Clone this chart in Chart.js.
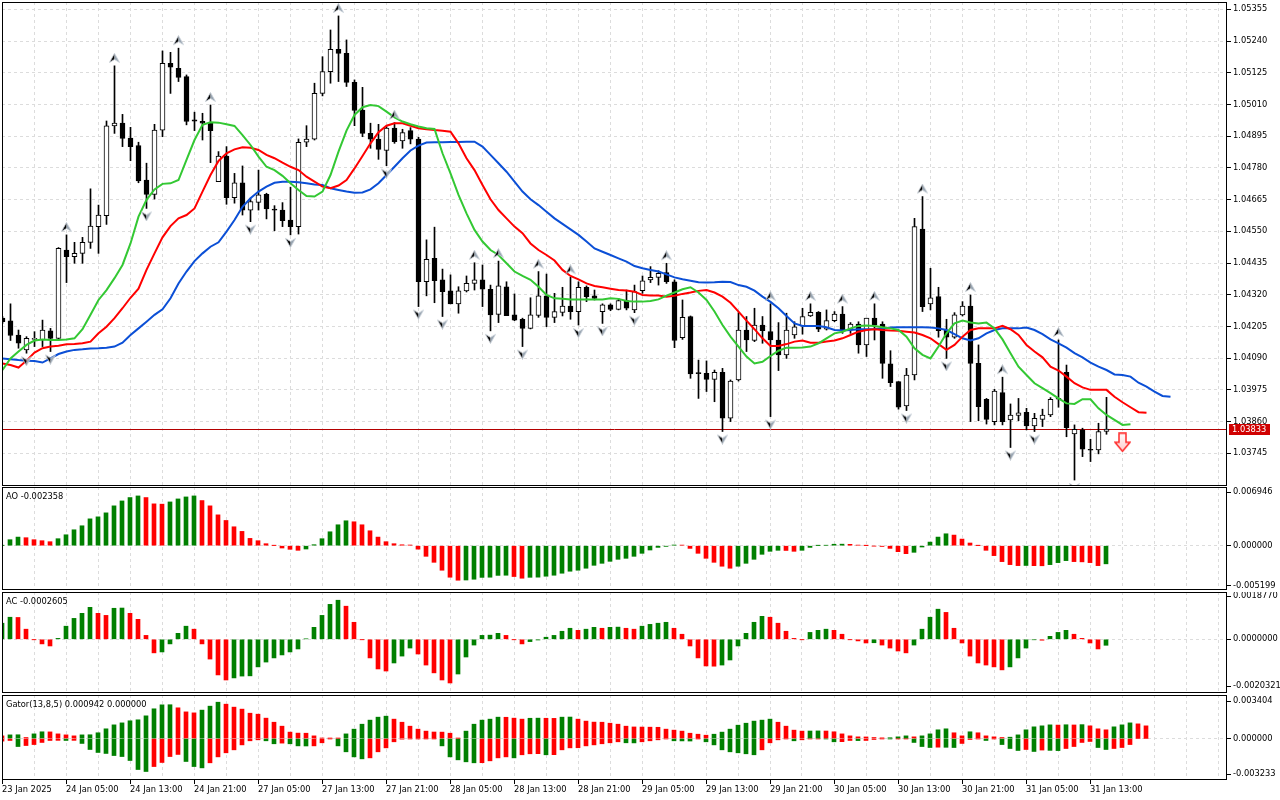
<!DOCTYPE html>
<html>
<head>
<meta charset="utf-8">
<script src="https://cdn.jsdelivr.net/npm/chart.js@4.4.1/dist/chart.umd.min.js"></script>
<style>
html, body { margin: 0; padding: 0; background: #fff; }
#wrap { position: relative; width: 1280px; height: 800px; overflow: hidden; }
.pane { position: absolute; left: 0; width: 1280px; }
canvas { display: block; }
</style>
</head>
<body>
<div id="wrap">
  <div class="pane" style="top:2px;height:484px"><canvas id="main" width="1280" height="484"></canvas></div>
  <div class="pane" style="top:487px;height:103px"><canvas id="ao" width="1280" height="103"></canvas></div>
  <div class="pane" style="top:592px;height:101px"><canvas id="ac" width="1280" height="101"></canvas></div>
  <div class="pane" style="top:695px;height:105px"><canvas id="gator" width="1280" height="105"></canvas></div>
</div>
<script>
// EURUSD H1, 23 Jan 21:00 .. 31 Jan 15:00 (bar index 0..138)
const open = [
  1.04235, 1.04225, 1.04174, 1.04120, 1.04158, 1.04156, 1.04189, 1.04162, 1.04482, 1.04458,
  1.04470, 1.04510, 1.04567, 1.04607, 1.04932, 1.04942, 1.04888, 1.04861, 1.04736, 1.04684,
  1.04917, 1.05159, 1.05141, 1.05111, 1.04954, 1.04949, 1.04944, 1.04730, 1.04823, 1.04672,
  1.04726, 1.04627, 1.04655, 1.04684, 1.04631, 1.04627, 1.04591, 1.04567, 1.04873, 1.04884,
  1.05050, 1.05129, 1.05210, 1.05195, 1.05090, 1.04990, 1.04905, 1.04884, 1.04843, 1.04924,
  1.04878, 1.04915, 1.04884, 1.04367, 1.04452, 1.04374, 1.04334, 1.04287, 1.04334, 1.04361,
  1.04374, 1.04340, 1.04249, 1.04349, 1.04247, 1.04231, 1.04198, 1.04245, 1.04316, 1.04238,
  1.04256, 1.04279, 1.04259, 1.04347, 1.04316, 1.04259, 1.04283, 1.04267, 1.04299, 1.04265,
  1.04335, 1.04374, 1.04383, 1.04400, 1.04367, 1.04164, 1.04241, 1.04035, 1.04035, 1.04013,
  1.04039, 1.03872, 1.04011, 1.04192, 1.04154, 1.04210, 1.04186, 1.04156, 1.04102, 1.04174,
  1.04207, 1.04243, 1.04256, 1.04195, 1.04226, 1.04250, 1.04192, 1.04214, 1.04138, 1.04235,
  1.04214, 1.04069, 1.04005, 1.03917, 1.04029, 1.04558, 1.04287, 1.04313, 1.04192, 1.04166,
  1.04247, 1.04279, 1.04071, 1.03941, 1.03860, 1.03965, 1.03866, 1.03882, 1.03894, 1.03844,
  1.03868, 1.03884, 1.03941, 1.04039, 1.03815, 1.03830, 1.03758, 1.03757, 1.03824
];
const high = [
  1.04241, 1.04287, 1.04192, 1.04168, 1.04186, 1.04228, 1.04198, 1.04491, 1.04537, 1.04510,
  1.04528, 1.04704, 1.04645, 1.04950, 1.05150, 1.04974, 1.04927, 1.04873, 1.04797, 1.04938,
  1.05204, 1.05199, 1.05214, 1.05117, 1.04982, 1.04978, 1.05008, 1.04839, 1.04857, 1.04760,
  1.04787, 1.04670, 1.04772, 1.04688, 1.04643, 1.04654, 1.04710, 1.04885, 1.04933, 1.05087,
  1.05183, 1.05280, 1.05331, 1.05244, 1.05099, 1.05072, 1.04942, 1.04938, 1.04930, 1.04944,
  1.04920, 1.04926, 1.04891, 1.04519, 1.04565, 1.04413, 1.04392, 1.04349, 1.04388, 1.04436,
  1.04428, 1.04355, 1.04442, 1.04367, 1.04323, 1.04235, 1.04309, 1.04404, 1.04395, 1.04325,
  1.04347, 1.04383, 1.04367, 1.04352, 1.04337, 1.04287, 1.04287, 1.04307, 1.04337, 1.04355,
  1.04388, 1.04422, 1.04407, 1.04434, 1.04374, 1.04301, 1.04243, 1.04083, 1.04080, 1.04047,
  1.04053, 1.04011, 1.04255, 1.04241, 1.04271, 1.04241, 1.04287, 1.04219, 1.04253, 1.04222,
  1.04271, 1.04287, 1.04259, 1.04265, 1.04259, 1.04277, 1.04219, 1.04222, 1.04235, 1.04287,
  1.04222, 1.04117, 1.04005, 1.04053, 1.04597, 1.04676, 1.04416, 1.04347, 1.04231, 1.04255,
  1.04295, 1.04319, 1.04138, 1.03944, 1.03977, 1.04021, 1.03924, 1.03944, 1.03908, 1.03890,
  1.03905, 1.03947, 1.04156, 1.04065, 1.03848, 1.03836, 1.03796, 1.03854, 1.03948
];
const low = [
  1.04216, 1.04154, 1.04126, 1.04108, 1.04132, 1.04132, 1.04114, 1.04156, 1.04364, 1.04434,
  1.04434, 1.04488, 1.04470, 1.04575, 1.04905, 1.04857, 1.04806, 1.04726, 1.04633, 1.04667,
  1.04893, 1.05050, 1.05093, 1.04936, 1.04915, 1.04881, 1.04799, 1.04730, 1.04648, 1.04652,
  1.04609, 1.04585, 1.04627, 1.04595, 1.04552, 1.04567, 1.04537, 1.04540, 1.04857, 1.04881,
  1.05041, 1.05087, 1.05093, 1.05075, 1.04933, 1.04893, 1.04851, 1.04811, 1.04788, 1.04869,
  1.04851, 1.04867, 1.04277, 1.04316, 1.04291, 1.04241, 1.04287, 1.04253, 1.04330, 1.04337,
  1.04277, 1.04189, 1.04219, 1.04244, 1.04226, 1.04132, 1.04196, 1.04238, 1.04204, 1.04219,
  1.04243, 1.04231, 1.04210, 1.04295, 1.04301, 1.04216, 1.04262, 1.04265, 1.04265, 1.04255,
  1.04325, 1.04364, 1.04355, 1.04361, 1.04128, 1.04158, 1.04017, 1.03944, 1.03969, 1.03932,
  1.03824, 1.03860, 1.04007, 1.04114, 1.04150, 1.04144, 1.03878, 1.04045, 1.04089, 1.04162,
  1.04177, 1.04241, 1.04186, 1.04192, 1.04222, 1.04180, 1.04180, 1.04108, 1.04096, 1.04156,
  1.04017, 1.03987, 1.03905, 1.03900, 1.04011, 1.04259, 1.04265, 1.04166, 1.04089, 1.04162,
  1.04243, 1.03860, 1.03863, 1.03851, 1.03848, 1.03848, 1.03766, 1.03863, 1.03830, 1.03824,
  1.03842, 1.03878, 1.03912, 1.03805, 1.03648, 1.03733, 1.03715, 1.03743, 1.03814
];
const close = [
  1.04222, 1.04172, 1.04144, 1.04162, 1.04162, 1.04192, 1.04162, 1.04488, 1.04458, 1.04470,
  1.04510, 1.04569, 1.04609, 1.04932, 1.04942, 1.04887, 1.04857, 1.04733, 1.04684, 1.04917,
  1.05159, 1.05145, 1.05108, 1.04948, 1.04949, 1.04942, 1.04915, 1.04823, 1.04672, 1.04726,
  1.04627, 1.04658, 1.04682, 1.04631, 1.04627, 1.04589, 1.04567, 1.04873, 1.04884, 1.05050,
  1.05129, 1.05210, 1.05195, 1.05090, 1.04988, 1.04905, 1.04884, 1.04847, 1.04924, 1.04875,
  1.04908, 1.04884, 1.04367, 1.04448, 1.04371, 1.04331, 1.04287, 1.04334, 1.04361, 1.04374,
  1.04340, 1.04247, 1.04352, 1.04244, 1.04228, 1.04198, 1.04247, 1.04316, 1.04238, 1.04259,
  1.04279, 1.04259, 1.04347, 1.04313, 1.04307, 1.04283, 1.04267, 1.04299, 1.04271, 1.04331,
  1.04370, 1.04383, 1.04398, 1.04367, 1.04154, 1.04238, 1.04033, 1.04034, 1.04013, 1.04039,
  1.03872, 1.04007, 1.04192, 1.04156, 1.04210, 1.04190, 1.04156, 1.04102, 1.04192, 1.04204,
  1.04241, 1.04256, 1.04195, 1.04226, 1.04250, 1.04192, 1.04214, 1.04138, 1.04235, 1.04210,
  1.04071, 1.04001, 1.03912, 1.04029, 1.04567, 1.04277, 1.04309, 1.04190, 1.04166, 1.04247,
  1.04279, 1.04071, 1.03914, 1.03868, 1.03971, 1.03860, 1.03884, 1.03892, 1.03844, 1.03872,
  1.03884, 1.03941, 1.03944, 1.03838, 1.03832, 1.03760, 1.03756, 1.03824, 1.03833
];

// Alligator (13,8 / 8,5 / 5,3), already shifted forward: index = bar where it is drawn
const jaw = [
  1.04089, 1.04086, 1.04083, 1.04081, 1.04080, 1.04074, 1.04089, 1.04105, 1.04114, 1.04120,
  1.04122, 1.04125, 1.04126, 1.04128, 1.04132, 1.04146, 1.04174, 1.04198, 1.04222, 1.04247,
  1.04267, 1.04307, 1.04361, 1.04404, 1.04442, 1.04470, 1.04494, 1.04510, 1.04549, 1.04591,
  1.04639, 1.04670, 1.04694, 1.04712, 1.04726, 1.04730, 1.04730, 1.04728, 1.04724, 1.04720,
  1.04718, 1.04706, 1.04700, 1.04694, 1.04690, 1.04691, 1.04702, 1.04724, 1.04754, 1.04784,
  1.04815, 1.04843, 1.04861, 1.04872, 1.04873, 1.04873, 1.04874, 1.04874, 1.04875, 1.04875,
  1.04857, 1.04827, 1.04797, 1.04766, 1.04730, 1.04694, 1.04666, 1.04645, 1.04621, 1.04597,
  1.04577, 1.04557, 1.04537, 1.04513, 1.04488, 1.04476, 1.04464, 1.04452, 1.04440, 1.04424,
  1.04416, 1.04410, 1.04404, 1.04394, 1.04383, 1.04376, 1.04371, 1.04365, 1.04364, 1.04365,
  1.04367, 1.04366, 1.04355, 1.04349, 1.04335, 1.04313, 1.04294, 1.04271, 1.04243, 1.04216,
  1.04207, 1.04207, 1.04207, 1.04202, 1.04192, 1.04190, 1.04192, 1.04195, 1.04195, 1.04196,
  1.04198, 1.04201, 1.04202, 1.04202, 1.04202, 1.04202, 1.04201, 1.04198, 1.04192, 1.04177,
  1.04162, 1.04154, 1.04162, 1.04180, 1.04192, 1.04198, 1.04198, 1.04198, 1.04201, 1.04192,
  1.04177, 1.04158, 1.04144, 1.04128, 1.04108, 1.04093, 1.04074, 1.04059, 1.04047, 1.04031,
  1.04029, 1.04023, 1.04001, 1.03987, 1.03969, 1.03953, 1.03950
];
const teeth = [
  1.04071, 1.04065, 1.04056, 1.04081, 1.04110, 1.04126, 1.04132, 1.04135, 1.04140, 1.04141,
  1.04144, 1.04150, 1.04180, 1.04204, 1.04235, 1.04271, 1.04309, 1.04342, 1.04410, 1.04470,
  1.04528, 1.04569, 1.04597, 1.04609, 1.04633, 1.04694, 1.04754, 1.04805, 1.04833, 1.04847,
  1.04855, 1.04853, 1.04845, 1.04827, 1.04815, 1.04799, 1.04784, 1.04772, 1.04748, 1.04730,
  1.04712, 1.04706, 1.04716, 1.04736, 1.04778, 1.04823, 1.04869, 1.04909, 1.04933, 1.04942,
  1.04942, 1.04933, 1.04924, 1.04920, 1.04917, 1.04915, 1.04911, 1.04869, 1.04815, 1.04772,
  1.04718, 1.04666, 1.04627, 1.04597, 1.04567, 1.04543, 1.04506, 1.04482, 1.04464, 1.04444,
  1.04410, 1.04388, 1.04376, 1.04361, 1.04352, 1.04347, 1.04342, 1.04337, 1.04335, 1.04331,
  1.04319, 1.04317, 1.04317, 1.04313, 1.04316, 1.04323, 1.04328, 1.04334, 1.04337, 1.04328,
  1.04313, 1.04291, 1.04259, 1.04226, 1.04195, 1.04162, 1.04134, 1.04134, 1.04141, 1.04150,
  1.04154, 1.04146, 1.04146, 1.04150, 1.04154, 1.04162, 1.04174, 1.04186, 1.04192, 1.04195,
  1.04192, 1.04190, 1.04189, 1.04186, 1.04183, 1.04174, 1.04162, 1.04141, 1.04120, 1.04138,
  1.04168, 1.04192, 1.04198, 1.04198, 1.04198, 1.04207, 1.04195, 1.04174, 1.04138, 1.04114,
  1.04093, 1.04059, 1.04045, 1.04023, 1.03999, 1.03984, 1.03975, 1.03975, 1.03975, 1.03950,
  1.03930, 1.03912, 1.03894, 1.03892
];
const lips = [
  1.04047, 1.04089, 1.04114, 1.04138, 1.04154, 1.04158, 1.04156, 1.04156, 1.04158, 1.04162,
  1.04195, 1.04247, 1.04301, 1.04337, 1.04380, 1.04428, 1.04506, 1.04603, 1.04664, 1.04702,
  1.04722, 1.04724, 1.04736, 1.04809, 1.04881, 1.04936, 1.04945, 1.04944, 1.04938, 1.04932,
  1.04899, 1.04863, 1.04821, 1.04784, 1.04772, 1.04751, 1.04724, 1.04700, 1.04678, 1.04676,
  1.04694, 1.04754, 1.04839, 1.04915, 1.04972, 1.05000, 1.05008, 1.05004, 1.04984, 1.04963,
  1.04948, 1.04938, 1.04930, 1.04924, 1.04921, 1.04833, 1.04760, 1.04682, 1.04615, 1.04555,
  1.04513, 1.04482, 1.04464, 1.04434, 1.04404, 1.04388, 1.04374, 1.04349, 1.04319, 1.04307,
  1.04305, 1.04303, 1.04303, 1.04303, 1.04303, 1.04303, 1.04307, 1.04305, 1.04297, 1.04295,
  1.04295, 1.04297, 1.04303, 1.04317, 1.04328, 1.04340, 1.04347, 1.04328, 1.04301, 1.04259,
  1.04210, 1.04168, 1.04132, 1.04096, 1.04071, 1.04077, 1.04098, 1.04117, 1.04128, 1.04128,
  1.04129, 1.04132, 1.04144, 1.04162, 1.04180, 1.04186, 1.04198, 1.04207, 1.04208, 1.04207,
  1.04202, 1.04198, 1.04192, 1.04168, 1.04126, 1.04102, 1.04089, 1.04132, 1.04180, 1.04216,
  1.04226, 1.04219, 1.04216, 1.04219, 1.04198, 1.04158, 1.04108, 1.04059, 1.04029, 1.03999,
  1.03981, 1.03963, 1.03944, 1.03926, 1.03924, 1.03941, 1.03941, 1.03908, 1.03884, 1.03866,
  1.03848, 1.03850
];

const fractalUp = [8, 14, 22, 26, 42, 49, 59, 62, 67, 71, 83, 96, 101, 105, 109, 115, 121, 125, 132];
const fractalDown = [3, 6, 18, 31, 36, 48, 52, 55, 61, 65, 72, 75, 79, 90, 96, 113, 118, 126, 129, 134];
const signalBars = [140];
const signalPrices = [1.03785];
const lastPrice = 1.03833;

const ao = [
  0.00003, 0.00078, 0.00112, 0.00104, 0.00078, 0.00065, 0.00052, 0.00091, 0.00142, 0.00207,
  0.00259, 0.00349, 0.00375, 0.00427, 0.00518, 0.00582, 0.00626, 0.00647, 0.00626, 0.00544,
  0.00540, 0.00569, 0.00608, 0.00634, 0.00647, 0.00587, 0.00518, 0.00401, 0.00328, 0.00246,
  0.00186, 0.00095, 0.00065, 0.00026, 0.00002, -0.00030, -0.00047, -0.00060, -0.00043, 0.00013,
  0.00091, 0.00181, 0.00272, 0.00324, 0.00311, 0.00272, 0.00194, 0.00112, 0.00052, 0.00026,
  0.00012, 0.00009, -0.00045, -0.00138, -0.00216, -0.00319, -0.00410, -0.00449, -0.00446, -0.00436,
  -0.00412, -0.00410, -0.00386, -0.00384, -0.00401, -0.00423, -0.00411, -0.00409, -0.00397, -0.00384,
  -0.00358, -0.00332, -0.00319, -0.00293, -0.00255, -0.00229, -0.00203, -0.00177, -0.00164, -0.00138,
  -0.00099, -0.00056, -0.00022, -0.00009, 0.00009, 0.00008, -0.00035, -0.00099, -0.00164, -0.00216,
  -0.00267, -0.00293, -0.00267, -0.00229, -0.00177, -0.00112, -0.00073, -0.00060, -0.00062, -0.00073,
  -0.00060, -0.00022, 0.00002, 0.00005, 0.00019, 0.00020, 0.00018, 0.00008, 0.00001, -0.00004,
  -0.00010, -0.00035, -0.00078, -0.00104, -0.00086, -0.00017, 0.00047, 0.00112, 0.00155, 0.00138,
  0.00086, 0.00035, 0.00001, -0.00060, -0.00129, -0.00207, -0.00246, -0.00259, -0.00257, -0.00260,
  -0.00261, -0.00246, -0.00220, -0.00194, -0.00207, -0.00210, -0.00220, -0.00259, -0.002358
];
const ac = [
  0.00070, 0.00096, 0.00095, 0.00044, -0.00001, -0.00020, -0.00029, 0.00004, 0.00057, 0.00091,
  0.00113, 0.00139, 0.00113, 0.00104, 0.00135, 0.00136, 0.00113, 0.00087, 0.00017, -0.00059,
  -0.00055, -0.00020, 0.00026, 0.00057, 0.00044, -0.00020, -0.00086, -0.00155, -0.00177, -0.00168,
  -0.00160, -0.00159, -0.00120, -0.00099, -0.00081, -0.00068, -0.00055, -0.00042, 0.00002, 0.00052,
  0.00104, 0.00152, 0.00170, 0.00144, 0.00074, -0.00001, -0.00081, -0.00129, -0.00138, -0.00103,
  -0.00073, -0.00038, -0.00064, -0.00112, -0.00146, -0.00177, -0.00190, -0.00151, -0.00077, -0.00025,
  0.00017, 0.00018, 0.00026, 0.00017, -0.00001, -0.00020, -0.00010, -0.00003, 0.00009, 0.00017,
  0.00035, 0.00048, 0.00039, 0.00044, 0.00052, 0.00048, 0.00052, 0.00053, 0.00048, 0.00044,
  0.00057, 0.00065, 0.00070, 0.00074, 0.00048, 0.00022, -0.00029, -0.00081, -0.00116, -0.00117,
  -0.00112, -0.00090, -0.00029, 0.00026, 0.00074, 0.00100, 0.00096, 0.00070, 0.00035, 0.00004,
  -0.00001, 0.00030, 0.00039, 0.00044, 0.00039, 0.00022, -0.00001, -0.00007, -0.00016, -0.00015,
  -0.00025, -0.00038, -0.00051, -0.00059, -0.00025, 0.00044, 0.00096, 0.00131, 0.00117, 0.00048,
  -0.00016, -0.00073, -0.00103, -0.00112, -0.00120, -0.00133, -0.00120, -0.00081, -0.00038, -0.00002,
  -0.00004, 0.00013, 0.00030, 0.00039, 0.00022, 0.00004, -0.00016, -0.00042, -0.0002605
];
const gatorUpper = [
  0.00024, 0.00033, 0.00034, 0.00009, 0.00042, 0.00061, 0.00060, 0.00042, 0.00033, 0.00024,
  0.00033, 0.00034, 0.00052, 0.00088, 0.00124, 0.00142, 0.00161, 0.00170, 0.00206, 0.00270,
  0.00306, 0.00307, 0.00279, 0.00242, 0.00233, 0.00258, 0.00294, 0.00330, 0.00312, 0.00285,
  0.00267, 0.00230, 0.00221, 0.00185, 0.00148, 0.00112, 0.00058, 0.00049, 0.00048, 0.00024,
  0.00004, 0.00003, 0.00002, 0.00042, 0.00085, 0.00130, 0.00167, 0.00194, 0.00203, 0.00176,
  0.00148, 0.00112, 0.00085, 0.00067, 0.00059, 0.00058, 0.00048, 0.00002, 0.00067, 0.00130,
  0.00167, 0.00176, 0.00194, 0.00193, 0.00185, 0.00176, 0.00184, 0.00185, 0.00184, 0.00183,
  0.00194, 0.00195, 0.00176, 0.00158, 0.00149, 0.00148, 0.00139, 0.00130, 0.00112, 0.00105,
  0.00104, 0.00103, 0.00102, 0.00085, 0.00076, 0.00067, 0.00048, 0.00039, 0.00030, 0.00039,
  0.00058, 0.00085, 0.00121, 0.00139, 0.00158, 0.00167, 0.00176, 0.00148, 0.00112, 0.00076,
  0.00067, 0.00068, 0.00069, 0.00068, 0.00061, 0.00042, 0.00024, 0.00015, 0.00014, 0.00009,
  0.00006, 0.00007, 0.00015, 0.00024, 0.00015, 0.00024, 0.00042, 0.00079, 0.00088, 0.00052,
  0.00024, 0.00061, 0.00052, 0.00024, 0.00015, 0.00009, 0.00012, 0.00033, 0.00079, 0.00106,
  0.00115, 0.00124, 0.00122, 0.00125, 0.00123, 0.00126, 0.00115, 0.00088, 0.00079, 0.00106,
  0.00124, 0.00142, 0.00133, 0.00115
];
const gatorLower = [
  -0.00024, -0.00018, -0.00073, -0.00064, -0.00055, -0.00036, -0.00018, -0.00017, -0.00018, -0.00017,
  -0.00045, -0.00100, -0.00127, -0.00136, -0.00155, -0.00164, -0.00200, -0.00282, -0.00300, -0.00255,
  -0.00218, -0.00164, -0.00145, -0.00209, -0.00255, -0.00267, -0.00221, -0.00167, -0.00130, -0.00103,
  -0.00058, -0.00021, -0.00012, -0.00021, -0.00048, -0.00042, -0.00048, -0.00067, -0.00068, -0.00067,
  -0.00039, -0.00003, -0.00067, -0.00121, -0.00167, -0.00185, -0.00176, -0.00121, -0.00085, -0.00030,
  -0.00006, -0.00003, -0.00002, -0.00001, -0.00001, -0.00067, -0.00167, -0.00194, -0.00212, -0.00221,
  -0.00220, -0.00203, -0.00176, -0.00167, -0.00176, -0.00148, -0.00139, -0.00138, -0.00148, -0.00147,
  -0.00103, -0.00085, -0.00084, -0.00067, -0.00058, -0.00048, -0.00039, -0.00030, -0.00039, -0.00040,
  -0.00030, -0.00021, -0.00012, -0.00003, -0.00021, -0.00022, -0.00023, -0.00001, -0.00030, -0.00058,
  -0.00103, -0.00121, -0.00130, -0.00139, -0.00148, -0.00103, -0.00039, -0.00012, -0.00002, -0.00021,
  -0.00012, -0.00003, -0.00002, -0.00003, -0.00030, -0.00029, -0.00018, -0.00019, -0.00018, -0.00009,
  -0.00002, -0.00003, -0.00001, -0.00001, -0.00036, -0.00073, -0.00082, -0.00079, -0.00080, -0.00082,
  -0.00045, -0.00009, -0.00003, -0.00018, -0.00002, -0.00055, -0.00091, -0.00109, -0.00100, -0.00118,
  -0.00105, -0.00108, -0.00110, -0.00091, -0.00073, -0.00036, -0.00027, -0.00082, -0.00100, -0.00091,
  -0.00082, -0.00055, 0, 0
];

const priceTicks = [1.05355, 1.05240, 1.05125, 1.05010, 1.04895, 1.04780, 1.04665, 1.04550,
  1.04435, 1.04320, 1.04205, 1.04090, 1.03975, 1.03860, 1.03745];
const aoTicks = [0.006946, 0, -0.005199];
const acTicks = [0.0018770, 0, -0.0020321];
const gatorTicks = [0.003404, 0, -0.003233];
const tickBars = [0, 8, 16, 24, 32, 40, 48, 56, 64, 72, 80, 88, 96, 104, 112, 120, 128, 136];
const tickLabels = ['23 Jan 2025', '24 Jan 05:00', '24 Jan 13:00', '24 Jan 21:00', '27 Jan 05:00',
  '27 Jan 13:00', '27 Jan 21:00', '28 Jan 05:00', '28 Jan 13:00', '28 Jan 21:00', '29 Jan 05:00',
  '29 Jan 13:00', '29 Jan 21:00', '30 Jan 05:00', '30 Jan 13:00', '30 Jan 21:00', '31 Jan 05:00',
  '31 Jan 13:00'];

const FONT = { family: 'DejaVu Sans', size: 8.3 };
const GRID = '#dcdcdc';
const UP = '#008000';
const DOWN = '#ff0000';
Chart.defaults.font.family = FONT.family;
Chart.defaults.font.size = FONT.size;
Chart.defaults.color = '#000';

const framePlugin = {
  id: 'frame',
  afterDraw(chart) {
    const { ctx, chartArea: a } = chart;
    ctx.save();
    ctx.strokeStyle = '#000';
    ctx.lineWidth = 1;
    ctx.strokeRect(a.left + 0.5, a.top + 0.5, a.right - a.left - 1, a.bottom - a.top - 1);
    ctx.restore();
  }
};

const headerPlugin = {
  id: 'header',
  afterDraw(chart, args, opts) {
    if (!opts || !opts.text) return;
    const { ctx, chartArea: a } = chart;
    ctx.save();
    ctx.font = FONT.size + 'px "' + FONT.family + '"';
    ctx.fillStyle = '#000';
    ctx.textBaseline = 'middle';
    ctx.fillText(opts.text, a.left + 4, a.top + 10);
    ctx.restore();
  }
};

// bid line across the plot plus the red price tag on the axis
const priceTagPlugin = {
  id: 'priceTag',
  beforeDatasetsDraw(chart) {
    const { ctx, chartArea: a } = chart;
    const y = Math.round(chart.scales.y.getPixelForValue(lastPrice)) + 0.5;
    ctx.save();
    ctx.strokeStyle = '#b40000';
    ctx.lineWidth = 1;
    ctx.beginPath(); ctx.moveTo(a.left, y); ctx.lineTo(a.right, y); ctx.stroke();
    ctx.restore();
  },
  afterDraw(chart) {
    const { ctx } = chart;
    const y = Math.round(chart.scales.y.getPixelForValue(lastPrice));
    ctx.save();
    ctx.fillStyle = '#d00000';
    ctx.fillRect(1229, y - 5, 41, 11);
    ctx.fillStyle = '#fff';
    ctx.font = FONT.size + 'px "' + FONT.family + '"';
    ctx.textBaseline = 'middle';
    ctx.fillText(lastPrice.toFixed(5), 1232, y + 0.5);
    ctx.restore();
  }
};

function xAxis(min, max, withLabels) {
  return {
    type: 'linear', min, max, offset: false,
    afterBuildTicks: s => {
      const t = [];
      for (let v = 0; v <= 152; v += 4) t.push({ value: v });
      s.ticks = t;
    },
    afterFit: s => {
      s.height = withLabels ? 20 : 0;
      s.paddingLeft = 0; s.paddingRight = 0; s.paddingTop = 0; s.paddingBottom = 0;
    },
    border: { display: false, dash: [3, 3] },
    grid: {
      offset: false, color: GRID, drawTicks: withLabels, tickLength: 4,
      tickColor: c => tickBars.includes(c.tick.value) ? '#000' : 'rgba(0,0,0,0)'
    },
    ticks: {
      display: withLabels, autoSkip: false, maxRotation: 0, minRotation: 0,
      align: 'start', padding: 1, color: '#000', font: FONT,
      callback: v => { const i = tickBars.indexOf(v); return i >= 0 ? tickLabels[i] : ''; }
    }
  };
}

function yAxis(min, max, values, digits, allGrid, z) {
  return {
    position: 'right', min, max, z: z || 0,
    afterBuildTicks: s => { s.ticks = values.map(v => ({ value: v })); },
    afterFit: s => {
      s.width = 53;
      s.paddingTop = 0; s.paddingBottom = 0; s.paddingLeft = 0; s.paddingRight = 0;
    },
    border: { display: false, dash: [3, 3] },
    grid: {
      color: c => (allGrid || c.tick.value === 0) ? GRID : 'rgba(0,0,0,0)',
      drawTicks: true, tickLength: 4, tickColor: '#000', tickWidth: 1
    },
    ticks: { autoSkip: false, padding: 2, color: '#000', font: FONT, callback: v => v.toFixed(digits) }
  };
}

function baseOptions(scales, header) {
  return {
    responsive: false, animation: false, devicePixelRatio: 1, events: [],
    layout: { autoPadding: false, padding: { left: 2, right: 0, top: 0, bottom: 0 } },
    plugins: { legend: { display: false }, tooltip: { enabled: false }, header: { text: header } },
    scales
  };
}

function arrowImage(up) {
  const c = document.createElement('canvas');
  c.width = 11; c.height = 26;
  const g = c.getContext('2d');
  const tip = up ? 0.5 : 25.5, base = up ? 9.5 : 16.5, notch = up ? 6.5 : 19.5;
  g.fillStyle = '#000';
  g.beginPath(); g.moveTo(5.5, tip); g.lineTo(0.5, base); g.lineTo(5.5, notch); g.closePath(); g.fill();
  g.fillStyle = '#98a4b0';
  g.beginPath(); g.moveTo(5.5, tip); g.lineTo(10.5, base); g.lineTo(5.5, notch); g.closePath(); g.fill();
  g.strokeStyle = '#c8d0d8'; g.lineWidth = 0.8;
  g.beginPath(); g.moveTo(5.5, tip); g.lineTo(10.5, base); g.lineTo(5.5, notch); g.lineTo(0.5, base); g.closePath(); g.stroke();
  return c;
}

function sellImage() {
  const c = document.createElement('canvas');
  c.width = 17; c.height = 20;
  const g = c.getContext('2d');
  g.beginPath();
  g.moveTo(5, 1); g.lineTo(12, 1); g.lineTo(12, 10); g.lineTo(16, 10);
  g.lineTo(8.5, 19); g.lineTo(1, 10); g.lineTo(5, 10); g.closePath();
  const gr = g.createLinearGradient(0, 0, 0, 20);
  gr.addColorStop(0, '#ffffff'); gr.addColorStop(1, '#ffc8c8');
  g.fillStyle = gr; g.fill();
  g.strokeStyle = '#ff2a2a'; g.lineWidth = 1.5; g.stroke();
  return c;
}

const bars = open.map((_, i) => i);
const pts = arr => arr.map((v, i) => ({ x: i, y: v }));
const lineSet = (arr, color, order) => ({
  type: 'line', data: pts(arr), borderColor: color, borderWidth: 2,
  pointRadius: 0, tension: 0, order
});

new Chart(document.getElementById('main'), {
  type: 'bar',
  data: {
    datasets: [
      { data: bars.map(i => ({ x: i, y: [low[i], high[i]] })), backgroundColor: '#000',
        barThickness: 1, grouped: false, order: 8 },
      { data: bars.map(i => ({ x: i, y: [open[i], close[i]] })),
        backgroundColor: c => close[c.dataIndex] >= open[c.dataIndex] ? '#fff' : '#000',
        borderColor: '#000', borderWidth: 1, borderSkipped: false,
        barThickness: 5, minBarLength: 1, grouped: false, order: 7 },
      lineSet(jaw, '#0b4fd6', 6),
      lineSet(teeth, '#ff0000', 5),
      lineSet(lips, '#33c833', 4),
      { type: 'scatter', data: fractalUp.map(i => ({ x: i, y: high[i] })),
        pointStyle: arrowImage(true), pointRadius: 5, order: 1 },
      { type: 'scatter', data: fractalDown.map(i => ({ x: i, y: low[i] })),
        pointStyle: arrowImage(false), pointRadius: 5, order: 1 },
      { type: 'scatter', data: signalBars.map((b, j) => ({ x: b, y: signalPrices[j] })),
        pointStyle: sellImage(), pointRadius: 5, order: 0 }
    ]
  },
  options: baseOptions({
    x: xAxis(-0.0625, 153.0625, false),
    y: yAxis(1.0362643, 1.0538147, priceTicks, 5, true)
  }, ''),
  plugins: [framePlugin, priceTagPlugin]
});

const risingColor = (v, i) => (i === 0 || v[i] > v[i - 1]) ? UP : DOWN;
const gatorColor = (v, i) => (i > 0 && Math.abs(v[i]) > Math.abs(v[i - 1])) ? UP : DOWN;
const histo = (arr, colorFn) => ({
  data: pts(arr), backgroundColor: c => colorFn(arr, c.dataIndex),
  barThickness: 4, grouped: false
});

new Chart(document.getElementById('ao'), {
  type: 'bar',
  data: { datasets: [histo(ao, risingColor)] },
  options: baseOptions({
    x: xAxis(0, 153.125, false),
    y: yAxis(-0.005759, 0.007631, aoTicks, 6, false)
  }, 'AO ' + ao[ao.length - 1].toFixed(6)),
  plugins: [framePlugin, headerPlugin]
});

new Chart(document.getElementById('ac'), {
  type: 'bar',
  data: { datasets: [histo(ac, risingColor)] },
  options: baseOptions({
    x: xAxis(0, 153.125, false),
    y: yAxis(-0.0023360, 0.0020576, acTicks, 7, false)
  }, 'AC ' + ac[ac.length - 1].toFixed(7)),
  plugins: [framePlugin, headerPlugin]
});

new Chart(document.getElementById('gator'), {
  type: 'bar',
  data: { datasets: [histo(gatorUpper, gatorColor), histo(gatorLower, gatorColor)] },
  options: baseOptions({
    x: xAxis(0, 153.125, true),
    y: yAxis(-0.0037724, 0.0039542, gatorTicks, 6, false, 1)
  }, 'Gator(13,8,5) 0.000942 0.000000'),
  plugins: [framePlugin, headerPlugin]
});
</script>
</body>
</html>
